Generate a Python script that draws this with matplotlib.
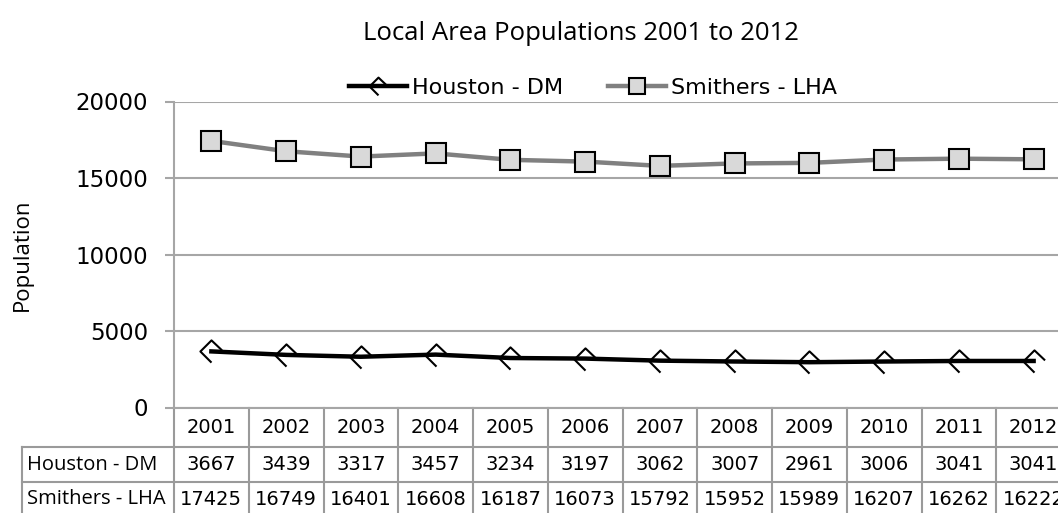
import numpy as np
import matplotlib.pyplot as plt
from matplotlib.path import Path
from matplotlib.transforms import blended_transform_factory

# ── Data ─────────────────────────────────────────────────────────────────────
years = ["2001", "2002", "2003", "2004", "2005", "2006",
         "2007", "2008", "2009", "2010", "2011", "2012"]
houston = [3667, 3439, 3317, 3457, 3234, 3197, 3062, 3007, 2961, 3006, 3041, 3041]
smithers = [17425, 16749, 16401, 16608, 16187, 16073, 15792, 15952, 15989, 16207, 16262, 16222]
series_names = ["Houston - DM", "Smithers - LHA"]
y_ticks = [0, 5000, 10000, 15000, 20000]
title = "Local Area Populations 2001 to 2012"

# ── Figure / pixel helpers ───────────────────────────────────────────────────
W, H = 1058, 513
plt.rcParams["font.family"] = ["Open Sans", "DejaVu Sans"]
fig = plt.figure(figsize=(W / 100, H / 100), dpi=100)


def fx(px):
    return px / W


def fy(py):
    return 1 - py / H


GRID = "#a6a6a6"
TABLE = "#9a9a9a"
WIDE = "DejaVu Sans"

ax = fig.add_axes([fx(174), fy(407.5), fx(1071) - fx(174), fy(101.5) - fy(407.5)])
x = np.arange(len(years))

# open "diamond" marker as Excel rendered it (left half + hat on top)
hat = Path([(0.95, 0.1), (0, 1), (-1, 0), (0, -1)],
           [Path.MOVETO, Path.LINETO, Path.LINETO, Path.LINETO])

ax.plot(x, houston, color="black", lw=3.2, marker=hat, ms=16, mfc="none",
        mec="black", mew=1.5, label=series_names[0], clip_on=False, zorder=3)
ax.plot(x, smithers, color="#808080", lw=3.2, marker="s", ms=14, mfc="#d9d9d9",
        mec="black", mew=1.5, label=series_names[1], clip_on=False, zorder=3)

ax.set_xlim(-0.5, len(years) - 0.5)
ax.set_ylim(0, 20000)
ax.set_yticks(y_ticks)
ax.set_yticklabels([str(v) for v in y_ticks], family=WIDE)
ax.set_xticks([])
ax.yaxis.grid(True, color=GRID, lw=1.5)
ax.set_axisbelow(True)
for s in ["top", "right"]:
    ax.spines[s].set_visible(False)
for s in ["left", "bottom"]:
    ax.spines[s].set_color(GRID)
    ax.spines[s].set_linewidth(1.5)
ax.tick_params(axis="y", length=6.5, width=1.5, color=GRID, labelsize=16.5, pad=12)

# ── Data table under the axis ────────────────────────────────────────────────
trans = blended_transform_factory(ax.transData, fig.transFigure)
col_w = (1071 - 174) / len(years)
left_x = -0.5 - (174 - 22) / col_w
row_edges = [407.5, 447, 482, 517]

for i in range(len(years) + 1):
    ax.plot([i - 0.5, i - 0.5], [fy(407.5), fy(520)], transform=trans,
            clip_on=False, color=TABLE, lw=1.5)
ax.plot([left_x, left_x], [fy(447), fy(520)], transform=trans,
        clip_on=False, color=TABLE, lw=1.5)
for py in row_edges[1:3]:
    ax.plot([left_x, len(years) - 0.5], [fy(py), fy(py)], transform=trans,
            clip_on=False, color=TABLE, lw=1.5)

row_mid = [(row_edges[k] + row_edges[k + 1]) / 2 for k in range(3)]
for i, yr in enumerate(years):
    ax.text(i, fy(row_mid[0]), yr, transform=trans, ha="center", va="center",
            fontsize=14, family=WIDE)
    ax.text(i, fy(row_mid[1]), str(houston[i]), transform=trans, ha="center",
            va="center", fontsize=14, family=WIDE)
    ax.text(i, fy(row_mid[2]), str(smithers[i]), transform=trans, ha="center",
            va="center", fontsize=14, family=WIDE)
for k, name in enumerate(series_names):
    ax.text(left_x + 5 / col_w, fy(row_mid[k + 1]), name, transform=trans,
            ha="left", va="center", fontsize=14.5)

# ── Labels, title, legend ────────────────────────────────────────────────────
fig.text(fx(22), fy(255), "Population", rotation=90, ha="center", va="center", fontsize=16)
fig.text(fx(581), fy(33), title, ha="center", va="center", fontsize=18.5)
fig.legend(loc="center", bbox_to_anchor=(fx(593), fy(88)), ncol=2, frameon=False,
           prop={"family": WIDE, "size": 16}, handlelength=2.6, handletextpad=0.22,
           columnspacing=2.05, markerscale=0.8, borderpad=0)

fig.savefig("out.png", dpi=100)
